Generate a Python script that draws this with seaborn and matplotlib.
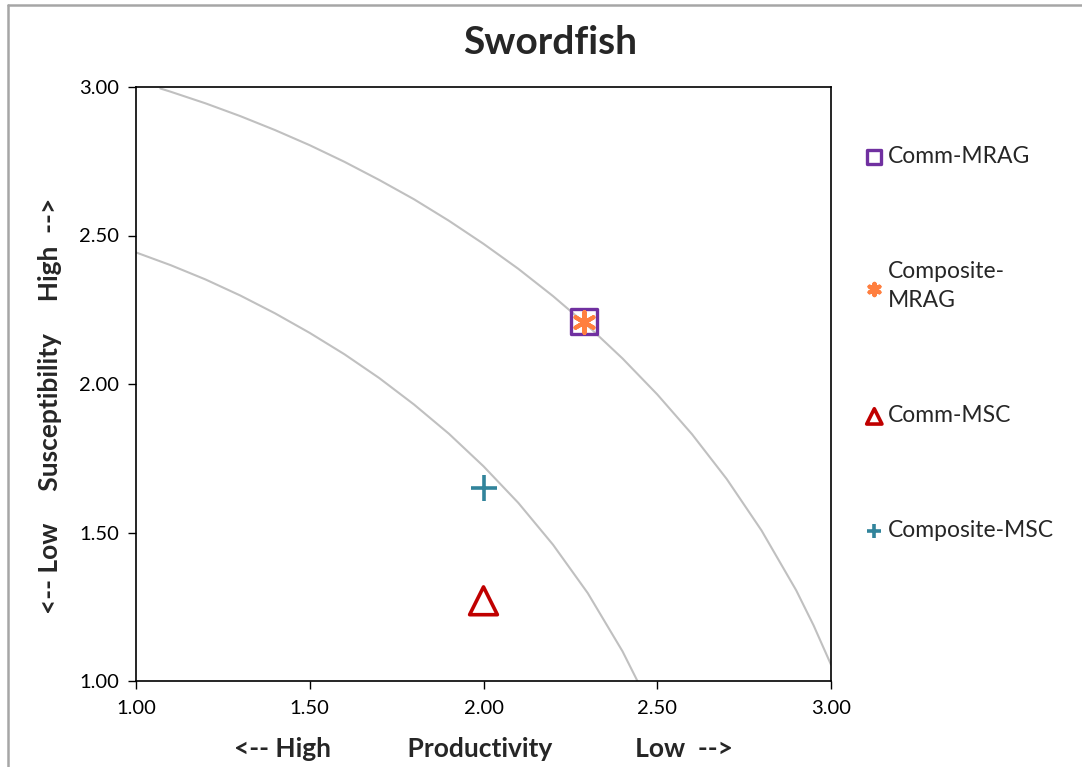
import matplotlib
matplotlib.use('Agg')
import matplotlib.pyplot as plt
import seaborn as sns
import pandas as pd
from matplotlib.lines import Line2D

# points
series = ['Comm-MRAG', 'Composite-MRAG', 'Comm-MSC', 'Composite-MSC']
productivity = [2.29, 2.29, 2.00, 2.00]
susceptibility = [2.21, 2.21, 1.27, 1.65]

# risk threshold curves
inner_x = [1.00, 1.10, 1.20, 1.30, 1.40, 1.50, 1.60, 1.70, 1.80, 1.90, 2.00, 2.10, 2.20, 2.30, 2.40, 2.443]
inner_y = [2.443, 2.400, 2.352, 2.298, 2.238, 2.172, 2.100, 2.020, 1.931, 1.833, 1.723, 1.600, 1.459, 1.296, 1.100, 1.00]
outer_x = [1.07, 1.10, 1.20, 1.30, 1.40, 1.50, 1.60, 1.70, 1.80, 1.90, 2.00, 2.10, 2.20, 2.30, 2.40, 2.50,
           2.60, 2.70, 2.80, 2.90, 2.95, 3.00]
outer_y = [2.995, 2.984, 2.945, 2.902, 2.855, 2.804, 2.748, 2.687, 2.622, 2.550, 2.472, 2.388, 2.296, 2.196,
           2.086, 1.965, 1.831, 1.680, 1.507, 1.305, 1.187, 1.055]

ticks = [1.0, 1.5, 2.0, 2.5, 3.0]

sns.set_style('white')
plt.rcParams['font.family'] = ['Lato', 'DejaVu Sans']

fig = plt.figure(figsize=(10.82, 7.67), dpi=100)
ax = fig.add_axes([136 / 1082, 86 / 767, 695 / 1082, 594 / 767])

sns.lineplot(x=inner_x, y=inner_y, color='#c0c0c0', linewidth=1.5, estimator=None, sort=False, ax=ax)
sns.lineplot(x=outer_x, y=outer_y, color='#c0c0c0', linewidth=1.5, estimator=None, sort=False, ax=ax)

df = pd.DataFrame({'series': series, 'P': productivity, 'S': susceptibility})

styles = {
    'Comm-MRAG': dict(marker='s', s=340, facecolors='none', edgecolors='#7030a0', linewidths=2.4),
    'Composite-MRAG': dict(marker=(6, 2, 0), s=220, color='#ff7f3f', linewidths=3),
    'Comm-MSC': dict(marker='^', s=400, facecolors='none', edgecolors='#c00000', linewidths=2.6),
    'Composite-MSC': dict(marker='+', s=360, color='#31849b', linewidths=2.6),
}
for name in series:
    sub = df[df['series'] == name]
    sns.scatterplot(data=sub, x='P', y='S', ax=ax, label=name, zorder=3, **styles[name])

ax.set_xlim(1, 3)
ax.set_ylim(1, 3)
ax.set_xticks(ticks)
ax.set_yticks(ticks)
ax.set_xticklabels([f'{t:.2f}' for t in ticks])
ax.set_yticklabels([f'{t:.2f}' for t in ticks])
ax.tick_params(axis='both', direction='out', length=6, width=1, labelsize=14.5, colors='black')
ax.tick_params(axis='x', bottom=True, pad=8)
ax.tick_params(axis='y', left=True, pad=6)
for sp in ax.spines.values():
    sp.set_color('black')
    sp.set_linewidth(1.2)

ax.set_xlabel('<-- High            Productivity             Low  -->', fontsize=19, fontweight='bold')
ax.xaxis.set_label_coords(0.5, -0.095)
ax.set_ylabel('<-- Low     Susceptibility     High  -->', fontsize=19, fontweight='bold')
ax.yaxis.set_label_coords(-0.106, 0.463)

fig.suptitle('Swordfish', x=0.508, y=0.968, fontsize=28, fontweight='bold')

labels = ['Comm-MRAG', 'Composite-\nMRAG', 'Comm-MSC', 'Composite-MSC']
handles, _ = ax.get_legend_handles_labels()
leg = ax.legend(handles, labels, loc='upper left', bbox_to_anchor=(864 / 1082, 1 - 146 / 767),
                bbox_transform=fig.transFigure, frameon=False,
                fontsize=16.5, markerscale=0.55, handletextpad=0.15, handlelength=0.9,
                labelspacing=4.1, borderaxespad=0, borderpad=0)
leg.get_texts()[1].set_linespacing(1.5)

# chart area border
fig.add_artist(Line2D([7.5 / 1082, 7.5 / 1082], [0, 1 - 4.5 / 767], transform=fig.transFigure,
                      color='#a6a6a6', linewidth=1.8))
fig.add_artist(Line2D([7.5 / 1082, 1], [1 - 4.5 / 767, 1 - 4.5 / 767], transform=fig.transFigure,
                      color='#a6a6a6', linewidth=1.8))

fig.savefig('out.png', dpi=100)
